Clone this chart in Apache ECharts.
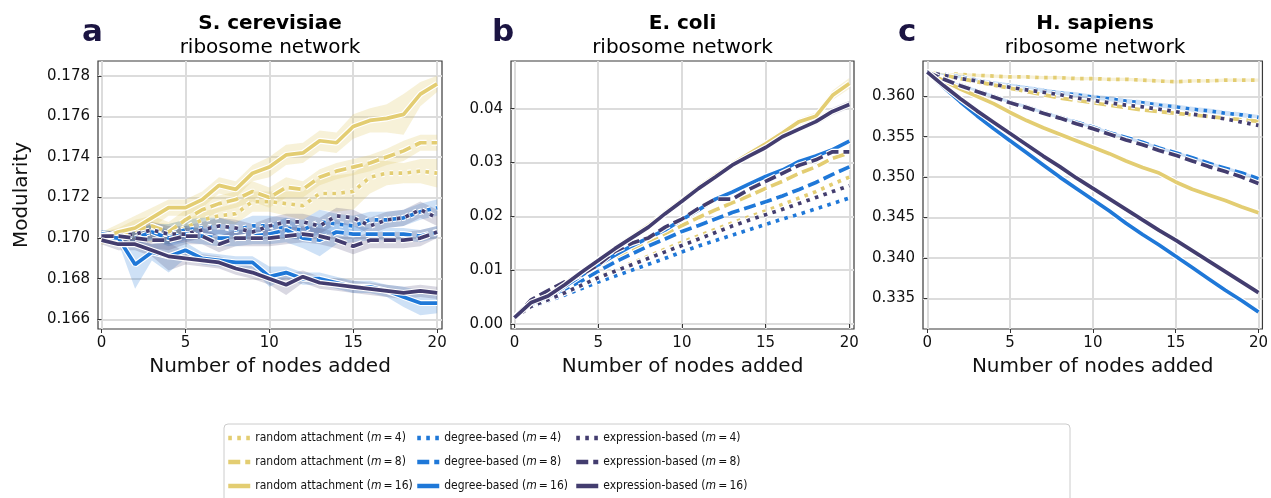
<!DOCTYPE html>
<html>
<head>
<meta charset="utf-8">
<title>Modularity vs nodes added</title>
<script src="https://cdn.jsdelivr.net/npm/echarts@6/dist/echarts.min.js"></script>
<style>
  html, body { margin: 0; padding: 0; background: #fff; }
  #chart { width: 1271px; height: 498px; }
</style>
</head>
<body>
<div id="chart"></div>
<script>
// x values shared by every panel
const nodesAdded = [0, 1, 2, 3, 4, 5, 6, 7, 8, 9, 10, 11, 12, 13, 14, 15, 16, 17, 18, 19, 20];

// panel a: S. cerevisiae
const scRandom4 = [0.1700, 0.1701, 0.1702, 0.1703, 0.1702, 0.1705, 0.1709, 0.1711, 0.1712, 0.1718, 0.1718, 0.1717, 0.1716, 0.1722, 0.1722, 0.1723, 0.1730, 0.1732, 0.1732, 0.1733, 0.1732];
const scRandom8 = [0.1700, 0.1701, 0.1704, 0.1706, 0.1703, 0.1709, 0.1714, 0.1717, 0.1719, 0.1723, 0.1720, 0.1725, 0.1724, 0.1730, 0.1733, 0.1735, 0.1737, 0.1740, 0.1743, 0.1747, 0.1747];
const scRandom16 = [0.1700, 0.1703, 0.1705, 0.1710, 0.1715, 0.1715, 0.1719, 0.1726, 0.1724, 0.1732, 0.1735, 0.1741, 0.1742, 0.1748, 0.1747, 0.1755, 0.1758, 0.1759, 0.1761, 0.1771, 0.1776];
const scDegree4 = [0.1702, 0.1701, 0.1701, 0.1703, 0.1702, 0.1704, 0.1705, 0.1706, 0.1704, 0.1706, 0.1706, 0.1705, 0.1704, 0.1708, 0.1707, 0.1706, 0.1709, 0.1709, 0.1710, 0.1713, 0.1715];
const scDegree8 = [0.1702, 0.1701, 0.1700, 0.1703, 0.1700, 0.1702, 0.1701, 0.1700, 0.1700, 0.1701, 0.1702, 0.1704, 0.1700, 0.1699, 0.1703, 0.1702, 0.1702, 0.1702, 0.1702, 0.1701, 0.1703];
const scDegree16 = [0.1701, 0.1700, 0.1687, 0.1693, 0.1691, 0.1694, 0.1690, 0.1689, 0.1688, 0.1688, 0.1681, 0.1683, 0.1680, 0.1680, 0.1678, 0.1676, 0.1676, 0.1674, 0.1671, 0.1668, 0.1668];
const scExpr4 = [0.1701, 0.1701, 0.1702, 0.1704, 0.1702, 0.1702, 0.1704, 0.1706, 0.1705, 0.1703, 0.1706, 0.1708, 0.1708, 0.1706, 0.1711, 0.1710, 0.1706, 0.1709, 0.1710, 0.1714, 0.1710];
const scExpr8 = [0.1701, 0.1701, 0.1700, 0.1699, 0.1699, 0.1701, 0.1701, 0.1697, 0.1700, 0.1700, 0.1700, 0.1701, 0.1702, 0.1701, 0.1699, 0.1696, 0.1699, 0.1699, 0.1699, 0.1700, 0.1703];
const scExpr16 = [0.1699, 0.1697, 0.1697, 0.1694, 0.1691, 0.1690, 0.1689, 0.1688, 0.1685, 0.1683, 0.1680, 0.1677, 0.1681, 0.1678, 0.1677, 0.1676, 0.1675, 0.1674, 0.1673, 0.1674, 0.1673];

// half widths of the shaded bands, panel a
const scRandom4Spread = [0.0003, 0.0003, 0.0004, 0.0005, 0.0005, 0.0004, 0.0004, 0.0004, 0.0005, 0.0005, 0.0005, 0.0006, 0.0007, 0.0008, 0.0009, 0.0009, 0.0008, 0.0006, 0.0005, 0.0006, 0.0007];
const scRandom8Spread = [0.0003, 0.0004, 0.0005, 0.0005, 0.0005, 0.0005, 0.0005, 0.0004, 0.0004, 0.0005, 0.0005, 0.0005, 0.0004, 0.0004, 0.0004, 0.0004, 0.0004, 0.0004, 0.0005, 0.0004, 0.0004];
const scRandom16Spread = [0.0003, 0.0004, 0.0006, 0.0005, 0.0004, 0.0004, 0.0004, 0.0004, 0.0004, 0.0004, 0.0005, 0.0005, 0.0005, 0.0005, 0.0005, 0.0006, 0.0006, 0.0007, 0.0010, 0.0006, 0.0004];
const scDegree4Spread = [0.0002, 0.0002, 0.0003, 0.0004, 0.0005, 0.0005, 0.0005, 0.0004, 0.0004, 0.0005, 0.0005, 0.0005, 0.0005, 0.0006, 0.0005, 0.0005, 0.0004, 0.0004, 0.0004, 0.0004, 0.0004];
const scDegree8Spread = [0.0002, 0.0002, 0.0003, 0.0004, 0.0004, 0.0004, 0.0004, 0.0004, 0.0004, 0.0004, 0.0005, 0.0006, 0.0005, 0.0008, 0.0006, 0.0004, 0.0003, 0.0003, 0.0003, 0.0003, 0.0003];
const scDegree16Spread = [0.0001, 0.0002, 0.0012, 0.0004, 0.0008, 0.0004, 0.0003, 0.0003, 0.0003, 0.0003, 0.0005, 0.0003, 0.0003, 0.0003, 0.0003, 0.0003, 0.0003, 0.0003, 0.0005, 0.0006, 0.0005];
const scExpr4Spread = [0.0002, 0.0003, 0.0003, 0.0004, 0.0004, 0.0004, 0.0004, 0.0004, 0.0004, 0.0004, 0.0004, 0.0004, 0.0004, 0.0004, 0.0004, 0.0004, 0.0004, 0.0004, 0.0004, 0.0004, 0.0004];
const scExpr8Spread = [0.0002, 0.0003, 0.0004, 0.0004, 0.0005, 0.0004, 0.0004, 0.0004, 0.0004, 0.0004, 0.0004, 0.0004, 0.0004, 0.0004, 0.0004, 0.0004, 0.0004, 0.0004, 0.0004, 0.0004, 0.0003];
const scExpr16Spread = [0.0002, 0.0003, 0.0003, 0.0003, 0.0007, 0.0003, 0.0003, 0.0003, 0.0003, 0.0003, 0.0003, 0.0005, 0.0003, 0.0003, 0.0003, 0.0003, 0.0003, 0.0003, 0.0003, 0.0003, 0.0003];

// panel b: E. coli
const ecRandom4 = [0.0012, 0.0033, 0.0045, 0.0058, 0.0072, 0.0088, 0.0100, 0.0113, 0.0126, 0.0139, 0.0152, 0.0164, 0.0176, 0.0188, 0.0199, 0.0210, 0.0222, 0.0234, 0.0246, 0.0260, 0.0273];
const ecRandom8 = [0.0012, 0.0038, 0.0052, 0.0070, 0.0088, 0.0105, 0.0122, 0.0138, 0.0153, 0.0168, 0.0183, 0.0198, 0.0212, 0.0225, 0.0238, 0.0252, 0.0265, 0.0280, 0.0292, 0.0308, 0.0318];
const ecRandom16 = [0.0012, 0.0040, 0.0054, 0.0075, 0.0097, 0.0119, 0.0141, 0.0162, 0.0183, 0.0207, 0.0230, 0.0254, 0.0276, 0.0297, 0.0316, 0.0335, 0.0355, 0.0376, 0.0386, 0.0425, 0.0447];
const ecDegree4 = [0.0012, 0.0032, 0.0043, 0.0054, 0.0066, 0.0078, 0.0089, 0.0100, 0.0111, 0.0122, 0.0134, 0.0145, 0.0155, 0.0165, 0.0175, 0.0185, 0.0195, 0.0204, 0.0214, 0.0224, 0.0234];
const ecDegree8 = [0.0012, 0.0036, 0.0050, 0.0065, 0.0080, 0.0098, 0.0115, 0.0130, 0.0145, 0.0158, 0.0172, 0.0183, 0.0195, 0.0207, 0.0217, 0.0227, 0.0238, 0.0250, 0.0263, 0.0278, 0.0292];
const ecDegree16 = [0.0012, 0.0038, 0.0050, 0.0070, 0.0090, 0.0110, 0.0128, 0.0145, 0.0160, 0.0175, 0.0194, 0.0212, 0.0232, 0.0245, 0.0260, 0.0274, 0.0286, 0.0302, 0.0312, 0.0324, 0.0340];
const ecExpr4 = [0.0012, 0.0033, 0.0045, 0.0058, 0.0072, 0.0086, 0.0098, 0.0110, 0.0122, 0.0134, 0.0146, 0.0158, 0.0170, 0.0182, 0.0193, 0.0203, 0.0213, 0.0224, 0.0235, 0.0246, 0.0257];
const ecExpr8 = [0.0012, 0.0045, 0.0062, 0.0078, 0.0092, 0.0110, 0.0135, 0.0150, 0.0160, 0.0180, 0.0195, 0.0215, 0.0232, 0.0232, 0.0250, 0.0265, 0.0280, 0.0295, 0.0305, 0.0320, 0.0320];
const ecExpr16 = [0.0012, 0.0040, 0.0052, 0.0073, 0.0096, 0.0118, 0.0140, 0.0160, 0.0180, 0.0205, 0.0228, 0.0252, 0.0273, 0.0295, 0.0312, 0.0328, 0.0348, 0.0362, 0.0376, 0.0395, 0.0408];

const ecRandom16Spread = [0.0001, 0.0002, 0.0002, 0.0003, 0.0003, 0.0003, 0.0003, 0.0004, 0.0004, 0.0004, 0.0004, 0.0004, 0.0005, 0.0005, 0.0005, 0.0006, 0.0006, 0.0006, 0.0007, 0.0009, 0.0010];
const ecExpr16Spread = [0.0001, 0.0002, 0.0002, 0.0003, 0.0003, 0.0003, 0.0003, 0.0003, 0.0003, 0.0004, 0.0004, 0.0004, 0.0004, 0.0004, 0.0004, 0.0005, 0.0005, 0.0005, 0.0006, 0.0007, 0.0007];

// panel c: H. sapiens
const hsRandom4 = [0.3630, 0.3628, 0.3627, 0.3626, 0.3625, 0.3624, 0.3624, 0.3623, 0.3623, 0.3622, 0.3622, 0.3621, 0.3621, 0.3620, 0.3619, 0.3618, 0.3619, 0.3619, 0.3620, 0.3620, 0.3620];
const hsRandom8 = [0.3630, 0.3626, 0.3622, 0.3618, 0.3614, 0.3610, 0.3606, 0.3602, 0.3598, 0.3595, 0.3592, 0.3589, 0.3586, 0.3583, 0.3581, 0.3579, 0.3577, 0.3575, 0.3573, 0.3571, 0.3569];
const hsRandom16 = [0.3630, 0.3619, 0.3609, 0.3600, 0.3591, 0.3580, 0.3570, 0.3561, 0.3553, 0.3545, 0.3537, 0.3529, 0.3520, 0.3512, 0.3505, 0.3494, 0.3485, 0.3478, 0.3471, 0.3463, 0.3456];
const hsDegree4 = [0.3630, 0.3627, 0.3624, 0.3620, 0.3616, 0.3613, 0.3610, 0.3607, 0.3604, 0.3602, 0.3599, 0.3597, 0.3594, 0.3592, 0.3589, 0.3587, 0.3584, 0.3582, 0.3579, 0.3577, 0.3574];
const hsDegree8 = [0.3630, 0.3621, 0.3614, 0.3607, 0.3600, 0.3593, 0.3587, 0.3580, 0.3574, 0.3568, 0.3562, 0.3555, 0.3549, 0.3543, 0.3536, 0.3530, 0.3524, 0.3517, 0.3511, 0.3505, 0.3498];
const hsDegree16 = [0.3630, 0.3611, 0.3593, 0.3576, 0.3560, 0.3545, 0.3530, 0.3515, 0.3500, 0.3486, 0.3472, 0.3458, 0.3443, 0.3429, 0.3416, 0.3402, 0.3388, 0.3374, 0.3360, 0.3347, 0.3333];
const hsExpr4 = [0.3630, 0.3626, 0.3622, 0.3619, 0.3615, 0.3611, 0.3608, 0.3605, 0.3602, 0.3598, 0.3595, 0.3592, 0.3589, 0.3587, 0.3584, 0.3581, 0.3578, 0.3575, 0.3572, 0.3568, 0.3564];
const hsExpr8 = [0.3630, 0.3621, 0.3613, 0.3606, 0.3599, 0.3592, 0.3586, 0.3579, 0.3573, 0.3566, 0.3560, 0.3553, 0.3546, 0.3540, 0.3533, 0.3527, 0.3520, 0.3513, 0.3507, 0.3500, 0.3492];
const hsExpr16 = [0.3630, 0.3613, 0.3597, 0.3582, 0.3568, 0.3554, 0.3540, 0.3526, 0.3513, 0.3499, 0.3486, 0.3473, 0.3460, 0.3447, 0.3434, 0.3422, 0.3409, 0.3396, 0.3383, 0.3370, 0.3357];

const hsRandom4Spread = [0.0000, 0.0001, 0.0002, 0.0002, 0.0002, 0.0002, 0.0002, 0.0002, 0.0002, 0.0002, 0.0002, 0.0002, 0.0002, 0.0002, 0.0002, 0.0002, 0.0002, 0.0002, 0.0002, 0.0002, 0.0002];
const hsDegree4Spread = [0.0000, 0.0001, 0.0002, 0.0002, 0.0003, 0.0003, 0.0003, 0.0003, 0.0003, 0.0003, 0.0003, 0.0003, 0.0003, 0.0003, 0.0003, 0.0003, 0.0003, 0.0003, 0.0003, 0.0003, 0.0003];
const hsDegree8Spread = [0.0000, 0.0001, 0.0001, 0.0002, 0.0002, 0.0002, 0.0002, 0.0002, 0.0002, 0.0002, 0.0002, 0.0002, 0.0002, 0.0002, 0.0002, 0.0002, 0.0002, 0.0002, 0.0002, 0.0002, 0.0002];
const hsRandom16Spread = [0.0000, 0.0001, 0.0001, 0.0001, 0.0001, 0.0001, 0.0001, 0.0001, 0.0001, 0.0002, 0.0002, 0.0002, 0.0002, 0.0002, 0.0002, 0.0002, 0.0002, 0.0003, 0.0003, 0.0003, 0.0003];

// tick labels
const xTicks = [0, 5, 10, 15, 20];
const scTicks = [0.166, 0.168, 0.170, 0.172, 0.174, 0.176, 0.178];
const ecTicks = [0.00, 0.01, 0.02, 0.03, 0.04];
const hsTicks = [0.335, 0.340, 0.345, 0.350, 0.355, 0.360];

const panelTitles = ['S. cerevisiae', 'E. coli', 'H. sapiens'];
const panelLetters = ['a', 'b', 'c'];

const FONT = "'DejaVu Sans', sans-serif";
const LEGEND_FONT = "'DejaVu Sans Condensed', 'Liberation Sans Narrow', 'DejaVu Sans', sans-serif";

const methods = [
  { key: 'random', label: 'random attachment', color: '#e3cd72', band: 'rgba(227,205,114,0.28)' },
  { key: 'degree', label: 'degree-based', color: '#1f78d8', band: 'rgba(31,120,216,0.22)' },
  { key: 'expr', label: 'expression-based', color: '#433d6f', band: 'rgba(67,61,111,0.2)' }
];
const mValues = [4, 8, 16];
const dashFor = { 4: [3.6, 5.4], 8: [12, 5], 16: 'solid' };

const panels = [
  {
    random: [scRandom4, scRandom8, scRandom16],
    degree: [scDegree4, scDegree8, scDegree16],
    expr: [scExpr4, scExpr8, scExpr16],
    spread: {
      random4: scRandom4Spread, random8: scRandom8Spread, random16: scRandom16Spread,
      degree4: scDegree4Spread, degree8: scDegree8Spread, degree16: scDegree16Spread,
      expr4: scExpr4Spread, expr8: scExpr8Spread, expr16: scExpr16Spread
    },
    ticks: scTicks, decimals: 3,
    grid: { left: 98, top: 61, width: 344, height: 268 },
    xRange: [-0.21, 20.29], yRange: [0.16552, 0.17873]
  },
  {
    random: [ecRandom4, ecRandom8, ecRandom16],
    degree: [ecDegree4, ecDegree8, ecDegree16],
    expr: [ecExpr4, ecExpr8, ecExpr16],
    spread: { random16: ecRandom16Spread, expr16: ecExpr16Spread },
    ticks: ecTicks, decimals: 2,
    grid: { left: 511, top: 61, width: 343, height: 268 },
    xRange: [-0.21, 20.28], yRange: [-0.00093, 0.04887]
  },
  {
    random: [hsRandom4, hsRandom8, hsRandom16],
    degree: [hsDegree4, hsDegree8, hsDegree16],
    expr: [hsExpr4, hsExpr8, hsExpr16],
    spread: { random4: hsRandom4Spread, random16: hsRandom16Spread, degree4: hsDegree4Spread, degree8: hsDegree8Spread },
    ticks: hsTicks, decimals: 3,
    grid: { left: 923, top: 61, width: 344, height: 268 },
    xRange: [-0.26, 20.24], yRange: [0.3312, 0.36437]
  }
];

const seriesName = (meth, m) => `${meth.label} (m = ${m})`;

// shaded band drawn as one polygon through the axis scales
function bandSeries(p, values, spread, color) {
  const rows = nodesAdded.map((x, i) => [x, values[i] - spread[i], values[i] + spread[i]]);
  return {
    type: 'custom', xAxisIndex: p, yAxisIndex: p, silent: true, z: 1,
    data: rows,
    encode: { x: 0, y: [1, 2] },
    renderItem: (params, api) => {
      if (params.dataIndex !== 0) return null;
      const upper = rows.map((r) => api.coord([r[0], r[2]]));
      const lower = rows.map((r) => api.coord([r[0], r[1]])).reverse();
      return { type: 'polygon', shape: { points: upper.concat(lower) }, style: { fill: color } };
    }
  };
}

const series = [];
panels.forEach((panel, p) => {
  let order = 0;
  methods.forEach((meth) => {
    mValues.forEach((m, j) => {
      const values = panel[meth.key][j];
      const spread = panel.spread[meth.key + m];
      if (spread) series.push(bandSeries(p, values, spread, meth.band));
      // white outline under each line
      series.push({
        type: 'line', xAxisIndex: p, yAxisIndex: p, silent: true,
        data: nodesAdded.map((x, i) => [x, values[i]]),
        symbol: 'none',
        lineStyle: { color: '#ffffff', width: 6, type: dashFor[m] },
        z: 2 + order * 2
      });
      series.push({
        name: seriesName(meth, m),
        type: 'line', xAxisIndex: p, yAxisIndex: p, silent: true,
        data: nodesAdded.map((x, i) => [x, values[i]]),
        symbol: 'none',
        itemStyle: { color: meth.color },
        lineStyle: { color: meth.color, width: 3.7, type: dashFor[m] },
        z: 3 + order * 2
      });
      order++;
    });
  });
});

const titles = [];
panels.forEach((panel, p) => {
  const cx = panel.grid.left + panel.grid.width / 2;
  titles.push({
    text: panelTitles[p],
    subtext: 'ribosome network',
    left: cx, top: 14, textAlign: 'center', padding: 0, itemGap: 4,
    textStyle: { fontFamily: FONT, fontSize: 20, fontWeight: 'bold', color: '#000', lineHeight: 20 },
    subtextStyle: { fontFamily: FONT, fontSize: 20, color: '#000', lineHeight: 20 }
  });
});
[82, 492, 898].forEach((x, p) => {
  titles.push({
    text: panelLetters[p], left: x, top: 17, padding: 0,
    textStyle: { fontFamily: FONT, fontSize: 31, fontWeight: 'bold', color: '#1b1442', lineHeight: 31 }
  });
});

const axisText = { fontFamily: FONT, fontSize: 15, color: '#111' };

const option = {
  animation: false,
  backgroundColor: '#ffffff',
  title: titles,
  grid: panels.map((panel) => ({
    ...panel.grid, show: true, borderColor: '#3a3a3a', borderWidth: 1.2, backgroundColor: 'transparent'
  })),
  xAxis: panels.map((panel, p) => ({
    type: 'value', gridIndex: p, min: panel.xRange[0], max: panel.xRange[1],
    name: 'Number of nodes added', nameLocation: 'middle', nameGap: 28,
    nameTextStyle: { fontFamily: FONT, fontSize: 20, color: '#111' },
    axisLine: { show: false },
    axisTick: { show: true, inside: false, length: 4, customValues: xTicks, lineStyle: { color: '#333' } },
    axisLabel: { customValues: xTicks, margin: 7, ...axisText, formatter: (v) => String(v) },
    splitLine: { show: true, lineStyle: { color: '#dcdcdc', width: 2 } }
  })),
  yAxis: panels.map((panel, p) => ({
    type: 'value', gridIndex: p, min: panel.yRange[0], max: panel.yRange[1],
    name: p === 0 ? 'Modularity' : '', nameLocation: 'middle', nameGap: 66,
    nameTextStyle: { fontFamily: FONT, fontSize: 20, color: '#111' },
    axisLine: { show: false },
    axisTick: { show: true, inside: false, length: 4, customValues: panel.ticks, lineStyle: { color: '#333' } },
    axisLabel: { customValues: panel.ticks, margin: 8, ...axisText, formatter: (v) => v.toFixed(panel.decimals) },
    splitLine: { show: true, lineStyle: { color: '#dcdcdc', width: 2 } }
  })),
  legend: methods.map((meth, c) => ({
    data: mValues.map((m) => seriesName(meth, m)),
    orient: 'vertical', left: [226, 415, 574][c], top: 432,
    itemWidth: 22, itemHeight: 12, itemGap: 12, padding: 0, selectedMode: false,
    itemStyle: { color: 'rgba(0,0,0,0)', borderWidth: 0, opacity: 0 },
    lineStyle: { width: 4.5 },
    // thin spaces around "=", as in the mathtext original
    formatter: (name) => name.replace(/\(m = (\d+)\)/, '({it|m}\u2009=\u2009$1)'),
    textStyle: {
      fontFamily: LEGEND_FONT, fontSize: 12, color: '#111',
      rich: { it: { fontFamily: LEGEND_FONT, fontSize: 12, fontStyle: 'italic', color: '#111' } }
    }
  })),
  graphic: [{
    type: 'rect', silent: true, z: 0,
    shape: { x: 224, y: 424, width: 846, height: 80, r: 4 },
    style: { fill: '#ffffff', stroke: '#cccccc', lineWidth: 1 }
  }],
  series: series
};

const chart = echarts.init(document.getElementById('chart'), null, { renderer: 'canvas' });
chart.setOption(option);
window.addEventListener('resize', () => chart.resize());
</script>
</body>
</html>
